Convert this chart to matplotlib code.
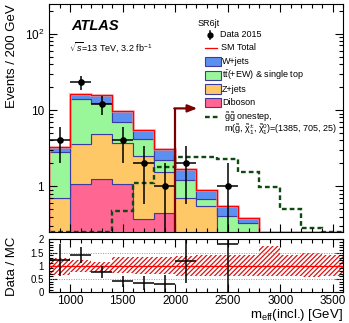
import numpy as np
import matplotlib
matplotlib.use('Agg')
import matplotlib.pyplot as plt
from matplotlib.ticker import FixedLocator, MultipleLocator, LogLocator, FuncFormatter, NullFormatter
from matplotlib.patches import Rectangle
from matplotlib.lines import Line2D

plt.rcParams['font.family'] = ['Liberation Sans', 'DejaVu Sans']
plt.rcParams['mathtext.fontset'] = 'custom'
plt.rcParams['mathtext.rm'] = 'Liberation Sans'
plt.rcParams['mathtext.it'] = 'Liberation Sans:italic'
plt.rcParams['mathtext.bf'] = 'Liberation Sans:bold'
plt.rcParams['hatch.linewidth'] = 0.9

# binning (GeV)
edges = np.arange(800, 3601, 200)
centers = 0.5 * (edges[:-1] + edges[1:])

# backgrounds, events per bin
diboson = [0.0, 1.08, 1.26, 1.08, 0.37, 0.45, 0.0, 0.0, 0.0, 0.0, 0.0, 0.0, 0.0, 0.0]
zjets = [0.71, 2.52, 3.59, 2.57, 2.13, 1.10, 0.71, 0.555, 0.0, 0.0, 0.0, 0.0, 0.0, 0.0]
ttbar = [2.09, 10.3, 7.45, 3.40, 1.66, 0.69, 0.52, 0.125, 0.41, 0.33, 0.0, 0.0, 0.0, 0.0]
wjets = [0.50, 2.40, 3.30, 2.65, 1.24, 0.86, 0.48, 0.21, 0.14, 0.06, 0.0, 0.0, 0.0, 0.0]

data = [4, 23, 12, 4, 2, 1, 2, 0, 1, 0, 0, 0, 0, 0]
signal = [0.0, 0.0, 0.0, 0.48, 1.11, 1.80, 2.45, 2.40, 2.30, 1.53, 0.98, 0.50, 0.285, 0.0]

# relative MC uncertainty band in ratio
band_lo = [0.65, 0.75, 0.77, 0.72, 0.70, 0.70, 0.62, 0.60, 0.60, 0.60, 0.60, 0.62, 0.57, 0.60]
band_hi = [1.28, 1.21, 1.15, 1.33, 1.33, 1.33, 1.38, 1.40, 1.40, 1.40, 1.74, 1.40, 1.49, 1.40]

cut_value = 2000
arrow_level = 10.5
arrow_end = 2210

ymin, ymax = 0.25, 240

col_dib = '#ff6692'
col_z = '#ffc866'
col_tt = '#99f799'
col_w = '#5b90f0'
col_edge = '#3c3ca0'
col_sig = '#0f4a10'
col_arrow = '#7a0000'

fig = plt.figure(figsize=(3.49, 3.23), dpi=100)
ax = fig.add_axes([0.1404, 0.2802, 0.8433, 0.7059])
rax = fig.add_axes([0.1404, 0.0947, 0.8433, 0.1647], sharex=ax)

# stacked backgrounds
bottom = np.zeros(len(centers))
for vals, col in [(diboson, col_dib), (zjets, col_z), (ttbar, col_tt), (wjets, col_w)]:
    top = bottom + np.array(vals)
    ax.stairs(np.maximum(top, ymin * 0.5), edges, baseline=np.maximum(bottom, ymin * 0.5),
              fill=True, facecolor=col, edgecolor=col_edge, lw=0.8)
    bottom = top
total = bottom

ax.stairs(np.maximum(total, ymin * 1.01), edges, color='#ff9999', lw=2.2, alpha=0.6)
ax.stairs(np.maximum(total, ymin * 1.01), edges, color='red', lw=0.9)

# signal
ax.stairs(np.maximum(signal, ymin * 1.03), edges, color=col_sig, lw=1.7,
          linestyle=(0, (2.0, 1.3)))

# data
data = np.array(data, dtype=float)
has = data > 0
derr = np.sqrt(data)
ax.errorbar(centers[has], data[has], xerr=100, yerr=derr[has], fmt='o', color='k',
            ms=3.8, lw=1.1, capsize=0)

# cut arrow
ax.plot([cut_value, cut_value], [ymin, arrow_level], color=col_arrow, lw=1.6, solid_capstyle='butt')
ax.annotate('', xy=(arrow_end, arrow_level), xytext=(cut_value - 8, arrow_level),
            arrowprops=dict(arrowstyle='-|>,head_length=0.55,head_width=0.22',
                            color=col_arrow, lw=1.6, shrinkA=0, shrinkB=0))

ax.set_yscale('log')
ax.set_ylim(ymin, ymax)
ax.set_xlim(edges[0], edges[-1])
ax.yaxis.set_major_locator(FixedLocator([1, 10, 100]))
ax.yaxis.set_major_formatter(FuncFormatter(lambda v, p: {1: '1', 10: '10', 100: '10$^{2}$'}.get(int(round(v)), '')))
ax.yaxis.set_minor_locator(LogLocator(base=10, subs=np.arange(2, 10)))
ax.yaxis.set_minor_formatter(NullFormatter())
ax.set_ylabel('Events / 200 GeV', fontsize=9.5, loc='top')
ax.yaxis.set_label_coords(-0.105, 1.0)

for a in (ax, rax):
    a.xaxis.set_major_locator(MultipleLocator(500))
    a.xaxis.set_minor_locator(MultipleLocator(100))
    a.tick_params(which='both', direction='in', top=True, right=True, labelsize=8.5, width=0.8)
    a.tick_params(which='major', length=6)
    a.tick_params(which='minor', length=3)
    for s in a.spines.values():
        s.set_linewidth(0.8)
ax.tick_params(labelbottom=False)
rax.tick_params(axis='x', pad=2)

# text
ax.text(0.075, 0.905, 'ATLAS', transform=ax.transAxes, fontsize=10.5, fontweight='bold',
        fontstyle='italic', va='center')
ax.text(0.068, 0.812, r'$\sqrt{s}$=13 TeV, 3.2 fb$^{-1}$', transform=ax.transAxes,
        fontsize=6.5, va='center')


# legend (positions in figure pixels, y from top)
def fx(px):
    return px / 349.0


def fy(py):
    return 1 - py / 323.0


fs = 6.5
fig.text(fx(198), fy(23), 'SR6jt', fontsize=fs, va='center')
fig.add_artist(Line2D([fx(210)], [fy(34.5)], marker='o', ms=3.5, color='k', transform=fig.transFigure))
fig.add_artist(Line2D([fx(210), fx(210)], [fy(30.5), fy(38.5)], color='k', lw=1.1, transform=fig.transFigure))
fig.text(fx(220), fy(34.5), 'Data 2015', fontsize=fs, va='center')
fig.add_artist(Line2D([fx(205), fx(217)], [fy(48), fy(48)], color='red', lw=0.9, transform=fig.transFigure))
fig.text(fx(221), fy(48), 'SM Total', fontsize=fs, va='center')
entries = [(col_w, 'W+jets', 61.5),
           (col_tt, r'$\mathrm{t\bar{t}}$(+EW) & single top', 75.5),
           (col_z, 'Z+jets', 89),
           (col_dib, 'Diboson', 102.5)]
for col, lab, yy in entries:
    fig.add_artist(Rectangle((fx(205), fy(yy + 4.6)), fx(15.5), 9.2 / 323.0, facecolor=col,
                             edgecolor=col_edge, lw=0.8, transform=fig.transFigure))
    fig.text(fx(222), fy(yy), lab, fontsize=fs, va='center')
fig.add_artist(Line2D([fx(205), fx(220)], [fy(117), fy(117)], color=col_sig, lw=1.7,
                      linestyle=(0, (2.0, 1.3)), transform=fig.transFigure))
fig.text(fx(224), fy(117), r'$\mathrm{\tilde{g}\tilde{g}}$ onestep,', fontsize=fs, va='center')
fig.text(fx(224), fy(130), r'm($\mathrm{\tilde{g}}$, $\mathrm{\tilde{\chi}^{\pm}_{1}}$, $\mathrm{\tilde{\chi}^{0}_{1}}$)=(1385, 705, 25)',
         fontsize=fs, va='center')

# ratio panel
for yv in (0.5, 1.0, 1.5):
    rax.axhline(yv, color='#999999', lw=0.7, linestyle=(0, (1, 1.5)))
rax.fill_between(edges, np.append(band_lo, band_lo[-1]), np.append(band_hi, band_hi[-1]),
                 step='post', facecolor='none', edgecolor='#dd1111', hatch='///////', lw=0)
rax.axhline(1.0, color='red', lw=0.9)
ok = has & (total > 0)
ratio = data[ok] / total[ok]
rerr = derr[ok] / total[ok]
rax.errorbar(centers[ok], ratio, xerr=100, yerr=rerr, fmt='none', ecolor='k', lw=1.1, capsize=0)
rax.set_ylim(0, 2)
rax.yaxis.set_major_locator(FixedLocator([0, 0.5, 1, 1.5, 2]))
rax.yaxis.set_major_formatter(FuncFormatter(lambda v, p: '%g' % v))
rax.yaxis.set_minor_locator(MultipleLocator(0.1))
rax.tick_params(axis='y', labelsize=7)
rax.set_ylabel('Data / MC', fontsize=9.5)
rax.yaxis.set_label_coords(-0.105, 0.5)
fig.text(fx(343), fy(315), r'm$_{\mathrm{eff}}$(incl.) [GeV]', fontsize=9.5, ha='right', va='center')

fig.savefig('out.png', dpi=100)
